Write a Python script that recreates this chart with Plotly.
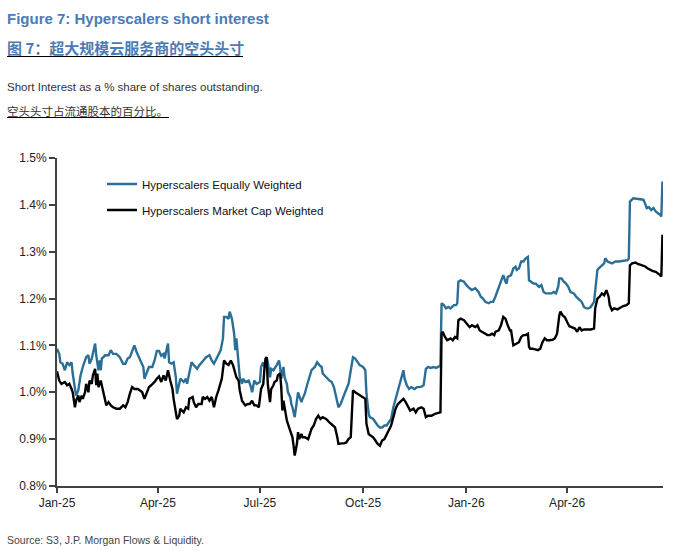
import pandas as pd
import plotly.graph_objects as go

# ---------------- data ----------------
base_date = "2025-01-01"

blue_days = [0, 2, 3, 5, 7, 9, 11, 13, 14, 16, 17, 19, 21, 23, 26, 28, 29, 31, 34, 35, 37, 38, 39, 40,
             43, 46, 48, 50, 53, 56, 59, 61, 63, 65, 67, 69, 71, 73, 75, 77, 78, 80, 82, 85, 87, 89,
             91, 93, 95, 96, 99, 100, 102, 104, 106, 107, 109, 110, 113, 115, 116, 119, 120, 122, 125,
             127, 129, 131, 133, 136, 138, 140, 142, 144, 146, 148, 149, 151, 153, 154, 156, 158, 159,
             160, 162, 163, 165, 166, 168, 171, 173, 174, 176, 178, 181, 182, 184, 185, 187, 188, 190,
             191, 193, 195, 196, 198, 199, 200, 202, 203, 205, 206, 208, 209, 210, 212, 213, 215, 216,
             218, 219, 221, 223, 225, 227, 230, 232, 234, 236, 237, 240, 243, 245, 247, 249, 251, 253,
             255, 257, 260, 262, 264, 266, 268, 270, 273, 275, 276, 278, 279, 282, 284, 286, 288, 290,
             292, 294, 296, 298, 300, 302, 305, 307, 309, 310, 312, 314, 316, 319, 321, 323, 325, 327,
             329, 331, 333, 336, 338, 340, 342, 343, 345, 347, 349, 351, 354, 356, 357, 358, 360, 363,
             365, 368, 370, 373, 375, 376, 378, 380, 382, 385, 387, 389, 391, 393, 394, 396, 398, 400,
             401, 402, 405, 407, 409, 410, 412, 414, 416, 418, 420, 421, 423, 425, 427, 430, 432, 434,
             436, 439, 441, 443, 445, 447, 448, 450, 452, 454, 456, 458, 461, 463, 465, 468, 470, 472,
             474, 476, 479, 480, 482, 483, 485, 488, 489, 491, 495, 498, 501, 507, 509, 510, 511, 514,
             520, 523, 525, 526, 528, 530, 532, 534, 536, 538, 539, 540]
blue_vals = [1.093, 1.082, 1.064, 1.061, 1.047, 1.064, 1.058, 1.064, 1.040, 1.000, 0.993, 1.004, 1.036,
             1.054, 1.075, 1.079, 1.061, 1.072, 1.104, 1.079, 1.047, 1.068, 1.047, 1.072,
             1.079, 1.079, 1.090, 1.082, 1.082, 1.075, 1.061, 1.061, 1.072, 1.075, 1.090, 1.100, 1.086,
             1.075, 1.064, 1.054, 1.029, 1.040, 1.054, 1.054, 1.068, 1.088,
             1.088, 1.078, 1.082, 1.072, 1.104, 1.064, 1.061, 1.064, 1.032, 0.997, 1.018, 1.029, 1.022,
             1.029, 1.018, 1.050, 1.064, 1.058, 1.050,
             1.058, 1.064, 1.068, 1.075, 1.079, 1.068, 1.061, 1.072, 1.082, 1.090, 1.115, 1.161, 1.161,
             1.157, 1.172, 1.157, 1.125, 1.090,
             1.115, 1.068, 1.032, 1.018, 1.029, 1.022, 1.025, 1.011, 1.000, 1.025, 1.018, 1.022, 1.054,
             1.064, 1.054, 1.075, 1.064, 1.032,
             1.050, 1.047, 1.054, 1.058, 1.068, 1.054, 1.029, 1.054, 1.032, 1.018, 1.000, 0.990, 0.975,
             0.968, 0.947, 0.968, 1.000, 0.993,
             0.979, 0.986, 0.997, 1.015, 1.032, 1.047, 1.054, 1.064, 1.058, 1.054, 1.040, 1.032, 1.025,
             1.022, 1.011, 0.990, 0.968, 0.975,
             0.986, 1.000, 1.018, 1.047, 1.075, 1.072, 1.064, 1.058, 1.054, 1.047, 0.997, 0.954, 0.947,
             0.943, 0.936, 0.929, 0.925, 0.925,
             0.929, 0.929, 0.936, 0.943, 0.968, 0.986, 1.007, 1.025, 1.047, 1.029, 1.015, 1.007, 1.011,
             1.007, 1.011, 1.011, 1.012, 1.015,
             1.050, 1.054, 1.052, 1.054, 1.052, 1.054, 1.058, 1.190, 1.186, 1.179, 1.182, 1.179, 1.186,
             1.186, 1.190, 1.236, 1.239, 1.236,
             1.229, 1.222, 1.218, 1.222, 1.218, 1.214, 1.204, 1.200, 1.193, 1.190, 1.193, 1.193, 1.204,
             1.218, 1.225, 1.236, 1.250, 1.236,
             1.232, 1.246, 1.250, 1.264, 1.268, 1.261, 1.264, 1.279, 1.279, 1.286, 1.289, 1.239, 1.236,
             1.232, 1.232, 1.225, 1.229, 1.214,
             1.211, 1.211, 1.211, 1.214, 1.211, 1.225, 1.243, 1.243, 1.236, 1.232, 1.225, 1.214, 1.211,
             1.204, 1.200, 1.193, 1.182, 1.179,
             1.179, 1.182, 1.193, 1.218, 1.261, 1.264, 1.268, 1.275, 1.286, 1.279, 1.275, 1.279, 1.279,
             1.282, 1.282, 1.286, 1.407, 1.414,
             1.411, 1.411, 1.400, 1.393, 1.395, 1.389, 1.393, 1.386, 1.382, 1.379, 1.375, 1.450]

black_days = [0, 1, 2, 4, 7, 9, 11, 13, 14, 16, 17, 19, 20, 22, 23, 25, 26, 28, 29, 31, 32, 34, 35, 36,
              37, 39, 41, 43, 44, 46, 48, 50, 53, 56, 59, 61, 63, 65, 67, 69, 72, 74, 76, 78, 80, 82,
              84, 87, 89, 91, 93, 95, 97, 99, 101, 103, 104, 107, 109, 110, 113, 115, 117, 118, 121,
              122, 124, 126, 129, 130, 132, 134, 136, 138, 140, 142, 144, 146, 147, 149, 151, 153, 155,
              157, 159, 160, 162, 163, 165, 168, 170, 172, 174, 176, 178, 180, 182, 184, 185, 186, 187,
              188, 190, 191, 193, 194, 196, 197, 199, 200, 201, 202, 204, 205, 207, 208, 210, 211, 212,
              214, 215, 216, 218, 219, 221, 224, 226, 227, 229, 231, 233, 235, 237, 240, 243, 246, 248,
              250, 251, 254, 256, 258, 260, 262, 263, 264, 266, 268, 271, 273, 275, 276, 278, 280, 282,
              284, 286, 288, 290, 292, 294, 296, 298, 300, 302, 304, 307, 309, 311, 313, 315, 318, 320,
              322, 325, 327, 329, 331, 334, 337, 340, 342, 343, 344, 346, 348, 351, 353, 355, 357, 358,
              360, 363, 365, 368, 370, 373, 375, 377, 379, 382, 384, 386, 388, 390, 391, 394, 396, 398,
              400, 402, 404, 405, 407, 410, 412, 414, 416, 418, 420, 421, 422, 424, 427, 429, 431, 433,
              435, 437, 439, 442, 444, 446, 448, 449, 451, 453, 455, 457, 459, 462, 464, 466, 468, 470,
              473, 476, 479, 480, 482, 484, 486, 488, 490, 492, 493, 495, 497, 500, 502, 505, 508, 510,
              511, 513, 516, 518, 522, 525, 527, 529, 531, 534, 536, 538, 539, 540]
black_vals = [1.045, 1.036, 1.025, 1.018, 1.022, 1.015, 1.018, 1.007, 1.000, 0.968, 0.982, 0.993, 0.979,
              0.993, 0.986, 1.000, 1.018, 1.000, 1.025, 1.018, 1.036, 1.050, 1.015, 1.040,
              1.011, 1.025, 1.004, 0.982, 0.972, 0.979, 0.972, 0.968, 0.965, 0.965, 0.972, 0.968, 0.979,
              0.997, 1.011, 1.007, 1.007, 1.004, 1.000, 0.986, 1.000, 1.011,
              1.015, 1.022, 1.029, 1.034, 1.022, 1.036, 1.025, 1.047, 1.025, 1.007, 0.986, 0.943, 0.950,
              0.965, 0.957, 0.968, 0.965, 0.986, 0.990,
              0.979, 0.968, 0.975, 0.975, 0.990, 0.986, 0.990, 0.982, 0.990, 0.968, 0.990, 1.004, 1.022,
              1.029, 1.068, 1.061, 1.058, 1.068,
              1.058, 1.040, 1.032, 1.025, 1.004, 0.982, 0.972, 0.975, 0.975, 0.982, 0.972, 0.972, 0.968,
              1.007, 1.018, 1.050, 1.072, 1.075,
              1.018, 0.979, 1.007, 1.015, 1.022, 1.025, 1.036, 1.040, 1.011, 0.961, 0.982, 0.954, 0.940,
              0.925, 0.918, 0.904, 0.886, 0.865,
              0.890, 0.915, 0.900, 0.911, 0.904, 0.904, 0.900, 0.915, 0.922, 0.929, 0.943, 0.950, 0.943,
              0.947, 0.943, 0.936, 0.929, 0.925,
              0.904, 0.890, 0.891, 0.891, 0.893, 0.900, 0.904, 0.954, 1.004, 1.000, 0.997, 0.993, 0.990,
              0.986, 0.933, 0.911, 0.907, 0.904,
              0.897, 0.890, 0.886, 0.897, 0.900, 0.911, 0.918, 0.929, 0.947, 0.965, 0.975, 0.982, 0.986,
              0.979, 0.968, 0.961, 0.965, 0.957,
              0.965, 0.968, 0.965, 0.947, 0.950, 0.950, 0.954, 0.955, 0.957, 1.125, 1.129, 1.118, 1.111,
              1.115, 1.111, 1.118, 1.115, 1.154,
              1.157, 1.154, 1.147, 1.139, 1.143, 1.139, 1.143, 1.132, 1.129, 1.125, 1.122, 1.122, 1.125,
              1.122, 1.129, 1.132, 1.143, 1.161,
              1.157, 1.143, 1.132, 1.132, 1.100, 1.104, 1.107, 1.118, 1.122, 1.122, 1.125, 1.097, 1.093,
              1.093, 1.091, 1.090, 1.093, 1.107,
              1.115, 1.111, 1.111, 1.112, 1.115, 1.125, 1.164, 1.172, 1.164, 1.160, 1.150, 1.141, 1.139,
              1.136, 1.129, 1.139, 1.132, 1.134,
              1.134, 1.134, 1.136, 1.179, 1.200, 1.204, 1.211, 1.207, 1.218, 1.204, 1.186, 1.175, 1.179,
              1.177, 1.180, 1.184, 1.186, 1.190,
              1.271, 1.275, 1.277, 1.274, 1.271, 1.268, 1.264, 1.261, 1.259, 1.257, 1.254, 1.250, 1.247,
              1.336]

series_names = ["Hyperscalers Equally Weighted", "Hyperscalers Market Cap Weighted"]
x_tick_dates = ["2025-01-01", "2025-04-01", "2025-07-01", "2025-10-01", "2026-01-01", "2026-04-01"]
x_tick_labels = ["Jan-25", "Apr-25", "Jul-25", "Oct-25", "Jan-26", "Apr-26"]
y_tick_vals = [0.8, 0.9, 1.0, 1.1, 1.2, 1.3, 1.4, 1.5]
y_tick_labels = ["0.8%", "0.9%", "1.0%", "1.1%", "1.2%", "1.3%", "1.4%", "1.5%"]

title_en = "Figure 7: Hyperscalers short interest"
title_cn = "图 7：超大规模云服务商的空头头寸"
sub_en = "Short Interest as a % share of shares outstanding."
sub_cn = "空头头寸占流通股本的百分比。"
source_text = "Source: S3, J.P. Morgan Flows & Liquidity."

# ---------------- figure ----------------
W, H = 690, 551
ML, MR, MT, MB = 57, 27, 158, 65
PW, PH = W - ML - MR, H - MT - MB


def px(xp):
    return (xp - ML) / PW


def py(yp):
    return (H - MB - yp) / PH


base = pd.Timestamp(base_date)
blue_x = base + pd.to_timedelta(blue_days, unit="D")
black_x = base + pd.to_timedelta(black_days, unit="D")

BLUE = "#2b6f96"
TITLE_BLUE = "#4b7bb5"
FONT = "Liberation Sans, Arial, sans-serif"
CJK = "Noto Sans CJK SC, sans-serif"

fig = go.Figure()
fig.add_trace(go.Scatter(x=blue_x, y=blue_vals, mode="lines", name=series_names[0],
                         line=dict(color=BLUE, width=2.4), legendgroup="a"))
fig.add_trace(go.Scatter(x=black_x, y=black_vals, mode="lines", name=series_names[1],
                         line=dict(color="#000000", width=2.4), legendgroup="b"))

axis_color = "#404040"
fig.update_xaxes(
    type="date",
    range=[base, black_x[-1] + pd.Timedelta(hours=12)],
    tickvals=x_tick_dates, ticktext=x_tick_labels,
    showgrid=False, zeroline=False,
    showline=True, linecolor=axis_color, linewidth=2,
    ticks="outside", ticklen=5, tickwidth=1.5, tickcolor=axis_color,
    tickfont=dict(family=FONT, size=12, color="#222222"),
)
fig.update_yaxes(
    range=[0.8, 1.5],
    tickvals=y_tick_vals, ticktext=y_tick_labels,
    showgrid=False, zeroline=False,
    showline=True, linecolor=axis_color, linewidth=2,
    ticks="outside", ticklen=6, tickwidth=1.5, tickcolor=axis_color,
    tickfont=dict(family=FONT, size=12, color="#222222"),
)

annotations = [
    dict(text="<b>" + title_en + "</b>", x=px(5), y=py(18.5), font=dict(family=FONT, size=15, color=TITLE_BLUE)),
    dict(text="<b>" + title_cn + "</b>", x=px(5), y=py(47), font=dict(family=CJK, size=15, color=TITLE_BLUE)),
    dict(text=sub_en, x=px(5), y=py(87), font=dict(family=FONT, size=11.5, color="#333333")),
    dict(text=sub_cn, x=px(5), y=py(111), font=dict(family=CJK, size=11.5, color="#333333")),
    dict(text=source_text, x=px(5), y=py(540), font=dict(family=FONT, size=10.5, color="#444444")),
]
for a in annotations:
    a.update(xref="paper", yref="paper", xanchor="left", yanchor="middle", showarrow=False)

shapes = [
    dict(type="line", xref="paper", yref="paper", x0=px(7), x1=px(243), y0=py(56.5), y1=py(56.5),
         line=dict(color="#000000", width=1)),
    dict(type="line", xref="paper", yref="paper", x0=px(7), x1=px(169), y0=py(117.5), y1=py(117.5),
         line=dict(color="#000000", width=1)),
]

fig.update_layout(
    width=W, height=H,
    margin=dict(l=ML, r=MR, t=MT, b=MB),
    paper_bgcolor="white", plot_bgcolor="white",
    annotations=annotations, shapes=shapes,
    showlegend=True,
    legend=dict(x=px(102), y=py(169.5), xanchor="left", yanchor="top",
                bgcolor="rgba(0,0,0,0)", borderwidth=0, tracegroupgap=7,
                font=dict(family=FONT, size=11.5, color="#111111")),
)

fig.write_html("out.html")
